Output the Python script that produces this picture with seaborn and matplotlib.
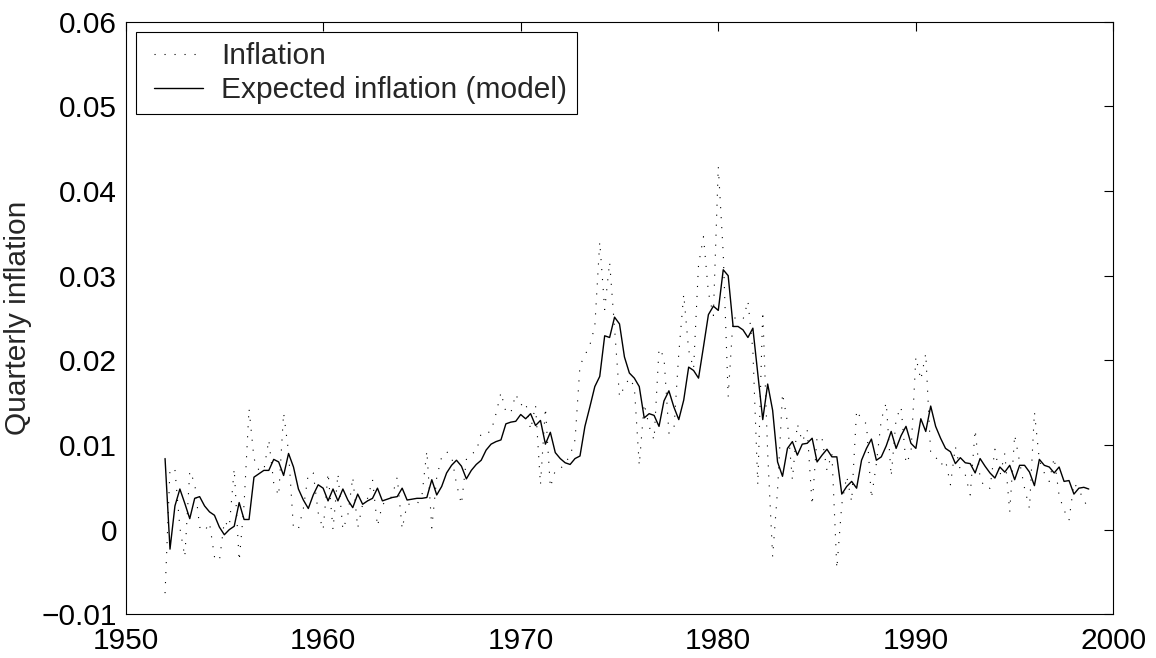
import numpy as np
import pandas as pd
import matplotlib
matplotlib.use("Agg")
import matplotlib.pyplot as plt
from matplotlib.ticker import FuncFormatter
from matplotlib.legend_handler import HandlerLine2D
import seaborn as sns

# quarterly values, starting 1952 Q1
start_year = 1952

inflation = [
    -0.0075, 0.0072, 0.0071, 0.0002, -0.0032, 0.0069, 0.0055, 0.0003, -0.0002, 0.0008,
    -0.0032, -0.0037, 0.0010, 0.0003, 0.0072, -0.0037, 0.0030, 0.0143, 0.0084, 0.0070,
    0.0070, 0.0106, 0.0055, 0.0040, 0.0138, 0.0092, 0.0001, 0.0001, 0.0025, 0.0066,
    0.0067, 0.0020, 0.0000, 0.0067, 0.0000, 0.0066, 0.0000, 0.0017,
    0.0062, 0.0002, 0.0030, 0.0037, 0.0059, 0.0004, 0.0030, 0.0033, 0.0040, 0.0062,
    0.0001, 0.0030, 0.0030, 0.0030, 0.0040, 0.0093, 0.0002, 0.0062, 0.0086, 0.0092,
    0.0087, 0.0054, 0.0030, 0.0083, 0.0090, 0.0092, 0.0114, 0.0114, 0.0116, 0.0137,
    0.0162, 0.0139, 0.0138, 0.0160, 0.0147, 0.0151, 0.0118, 0.0147, 0.0053, 0.0144,
    0.0050, 0.0070, 0.0072, 0.0078, 0.0088,
    0.0106, 0.0194, 0.0206, 0.0218, 0.0240, 0.0340, 0.0260, 0.0316, 0.0238, 0.0157,
    0.0169, 0.0179, 0.0169, 0.0076, 0.0149, 0.0122, 0.0106, 0.0214, 0.0204, 0.0114,
    0.0117, 0.0208, 0.0278, 0.0212, 0.0190, 0.0313, 0.0346, 0.0280, 0.0253, 0.0429,
    0.0326, 0.0157,
    0.0250, 0.0250, 0.0248, 0.0270, 0.0212, 0.0053, 0.0258, 0.0090, -0.0032, 0.0047,
    0.0161, 0.0127, 0.0059, 0.0125, 0.0104, 0.0118, 0.0029, 0.0110, 0.0108, 0.0070,
    0.0090, -0.0046, 0.0030, 0.0063, 0.0033, 0.0141, 0.0130, 0.0125, 0.0037, 0.0078,
    0.0130, 0.0150, 0.0063, 0.0131, 0.0145, 0.0078, 0.0090, 0.0204, 0.0177, 0.0208,
    0.0090,
    0.0086, 0.0076, 0.0082, 0.0053, 0.0098, 0.0070, 0.0065, 0.0041, 0.0118, 0.0061,
    0.0049, 0.0049, 0.0095, 0.0063, 0.0090, 0.0021, 0.0112, 0.0080, 0.0049, 0.0025,
    0.0139, 0.0082, 0.0067, 0.0057, 0.0085, 0.0040, 0.0023, 0.0011, 0.0055, 0.0047,
    0.0035, 0.0024,
]

expected = [
    0.0084, -0.0023, 0.0028, 0.0048, 0.0031, 0.0013, 0.0037, 0.0039, 0.0028, 0.0021,
    0.0017, 0.0003, -0.0006, 0.0000, 0.0004, 0.0032, 0.0012, 0.0012, 0.0062, 0.0066,
    0.0070, 0.0070, 0.0083, 0.0080, 0.0064, 0.0090, 0.0074, 0.0048, 0.0035, 0.0025,
    0.0041, 0.0053, 0.0049, 0.0034, 0.0048, 0.0034, 0.0048, 0.0035,
    0.0026, 0.0042, 0.0030, 0.0034, 0.0037, 0.0049, 0.0034, 0.0036, 0.0038, 0.0039,
    0.0049, 0.0035, 0.0036, 0.0037, 0.0037, 0.0038, 0.0059, 0.0041, 0.0051, 0.0067,
    0.0076, 0.0082, 0.0075, 0.0060, 0.0070, 0.0077, 0.0082, 0.0094, 0.0101, 0.0104,
    0.0106, 0.0125, 0.0127, 0.0128, 0.0136, 0.0131, 0.0137, 0.0123, 0.0129, 0.0101,
    0.0115, 0.0091, 0.0084, 0.0079, 0.0077,
    0.0084, 0.0087, 0.0122, 0.0145, 0.0169, 0.0181, 0.0229, 0.0227, 0.0251, 0.0243,
    0.0204, 0.0185, 0.0179, 0.0169, 0.0132, 0.0137, 0.0135, 0.0122, 0.0152, 0.0164,
    0.0145, 0.0130, 0.0153, 0.0192, 0.0188, 0.0179, 0.0216, 0.0254, 0.0264, 0.0259,
    0.0307, 0.0300,
    0.0240, 0.0240, 0.0236, 0.0227, 0.0238, 0.0184, 0.0130, 0.0172, 0.0141, 0.0080,
    0.0063, 0.0096, 0.0104, 0.0088, 0.0101, 0.0102, 0.0108, 0.0080, 0.0088, 0.0095,
    0.0086, 0.0086, 0.0042, 0.0051, 0.0057, 0.0049, 0.0082, 0.0096, 0.0107, 0.0082,
    0.0086, 0.0099, 0.0116, 0.0096, 0.0111, 0.0122, 0.0102, 0.0096, 0.0131, 0.0116,
    0.0146,
    0.0122, 0.0108, 0.0096, 0.0092, 0.0078, 0.0085, 0.0079, 0.0078, 0.0067, 0.0084,
    0.0075, 0.0067, 0.0061, 0.0074, 0.0068, 0.0076, 0.0059, 0.0076, 0.0076, 0.0068,
    0.0052, 0.0083, 0.0076, 0.0074, 0.0067, 0.0074, 0.0057, 0.0058, 0.0042, 0.0049,
    0.0050, 0.0048,
]

x_ticks = [1950, 1960, 1970, 1980, 1990, 2000]
y_ticks = [-0.01, 0, 0.01, 0.02, 0.03, 0.04, 0.05, 0.06]

quarters = start_year + 0.25 * np.arange(len(inflation))
df = pd.DataFrame({"date": quarters, "Inflation": inflation,
                   "Expected inflation (model)": expected})

sns.set_theme(style="white")
plt.rcParams['font.family'] = ['Liberation Sans', 'DejaVu Sans']
plt.rcParams['axes.unicode_minus'] = True

FS = 21.5

fig = plt.figure(figsize=(11.56, 6.58), dpi=100)
ax = fig.add_axes([0.1086, 0.0664, 0.8546, 0.9006])

sns.lineplot(data=df, x="date", y="Inflation", ax=ax, color="black",
             linewidth=0.8, linestyle=(0, (1, 8)), label="Inflation")
sns.lineplot(data=df, x="date", y="Expected inflation (model)", ax=ax,
             color="black", linewidth=1.0, label="Expected inflation (model)")

ax.set_xlim(1950, 2000)
ax.set_ylim(-0.01, 0.06)
ax.set_xticks(x_ticks)
ax.set_yticks(y_ticks)
ax.yaxis.set_major_formatter(FuncFormatter(lambda v, p: f"{v:g}".replace("-", "\u2212")))
ax.set_xlabel("")
ax.set_ylabel("Quarterly inflation", fontsize=FS, labelpad=7)

ax.tick_params(direction="in", length=6.5, width=0.8, top=True, right=True,
               labelsize=FS, colors="black", pad=6)
ax.tick_params(axis="x", pad=9)
for s in ax.spines.values():
    s.set_visible(True)
    s.set_color("black")
    s.set_linewidth(0.8)

handles, labels = ax.get_legend_handles_labels()
leg = ax.legend(handles, labels, loc="upper left", fontsize=FS, frameon=True,
                fancybox=False, edgecolor="black", framealpha=1,
                borderaxespad=0.35, borderpad=0.34, labelspacing=0.2,
                handlelength=1.9, handletextpad=0.6,
                handler_map={h: HandlerLine2D(xpad=0.27) for h in handles})
leg.get_frame().set_linewidth(0.8)

fig.savefig("out.png", dpi=100)
